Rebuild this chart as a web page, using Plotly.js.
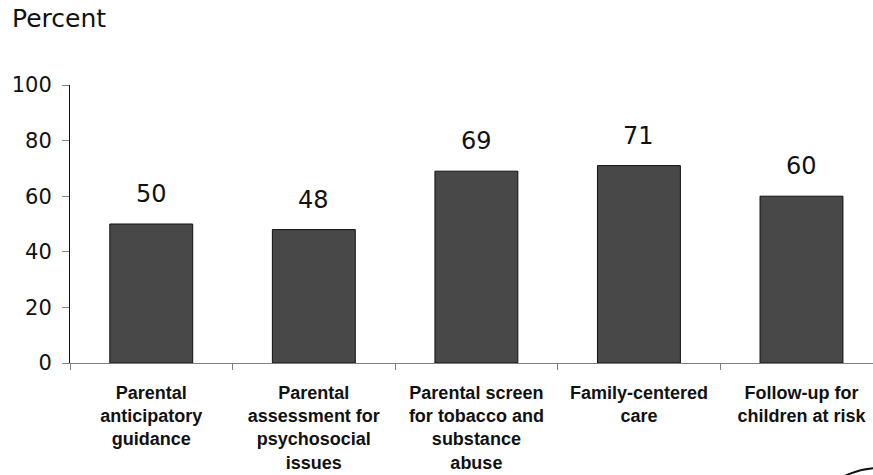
<!DOCTYPE html>
<html>
<head>
<meta charset="utf-8">
<script src="https://cdn.plot.ly/plotly-3.0.1.min.js"></script>
<style>html,body{margin:0;padding:0;background:#fff;}#chart{width:873px;height:475px;}</style>
</head>
<body>
<div id="chart"></div>
<script>
const categories = [
  "Parental<br>anticipatory<br>guidance",
  "Parental<br>assessment for<br>psychosocial<br>issues",
  "Parental screen<br>for tobacco and<br>substance<br>abuse",
  "Family-centered<br>care",
  "Follow-up for<br>children at risk"
];
const percentValues = [50, 48, 69, 71, 60];
const yTickValues = [0, 20, 40, 60, 80, 100];
const yTickLabels = ["0", "20", "40", "60", "80", "100"];

const trace = {
  type: "bar",
  x: categories,
  y: percentValues,
  marker: { color: "#484848", line: { color: "#111111", width: 1 } },
  hoverinfo: "none"
};

const annotations = categories.map((c, i) => ({
  x: c, y: percentValues[i], xref: "x", yref: "y",
  text: String(percentValues[i]), showarrow: false,
  yanchor: "bottom", yshift: 14,
  font: { family: "DejaVu Sans", size: 24, color: "#111" }
}));

const layout = {
  width: 873, height: 475,
  margin: { l: 70, r: 0, t: 85, b: 112 },
  paper_bgcolor: "#fff", plot_bgcolor: "#fff",
  showlegend: false,
  bargap: 0.49,
  title: {
    text: "Percent", xref: "container", yref: "container",
    x: 12 / 873, xanchor: "left", y: 1 - 18 / 475, yanchor: "middle",
    font: { family: "DejaVu Sans", size: 25, color: "#111" }
  },
  xaxis: {
    type: "category",
    range: [-0.5, 4.44],
    showline: true, linecolor: "#808080", linewidth: 1,
    ticks: "outside", tickson: "boundaries", ticklen: 6, tickcolor: "#808080",
    showgrid: false, zeroline: false,
    ticklabelstandoff: 13,
    tickfont: { family: "Liberation Sans", size: 18, color: "#111", weight: "bold" },
    tickangle: 0
  },
  yaxis: {
    range: [0, 100],
    tickvals: yTickValues, ticktext: yTickLabels,
    showline: true, linecolor: "#111", linewidth: 1,
    ticks: "outside", ticklen: 7, tickcolor: "#808080",
    showgrid: false, zeroline: false,
    ticklabelstandoff: 6,
    tickfont: { family: "DejaVu Sans", size: 21, color: "#111" }
  },
  annotations: annotations,
  shapes: [{
    type: "circle", xref: "paper", yref: "paper",
    x0: 0.9078, x1: 1.1096, y0: -0.9604, y1: -0.3777,
    line: { color: "#111", width: 2 }
  }]
};

Plotly.newPlot("chart", [trace], layout, { displayModeBar: false, staticPlot: true });
</script>
</body>
</html>
